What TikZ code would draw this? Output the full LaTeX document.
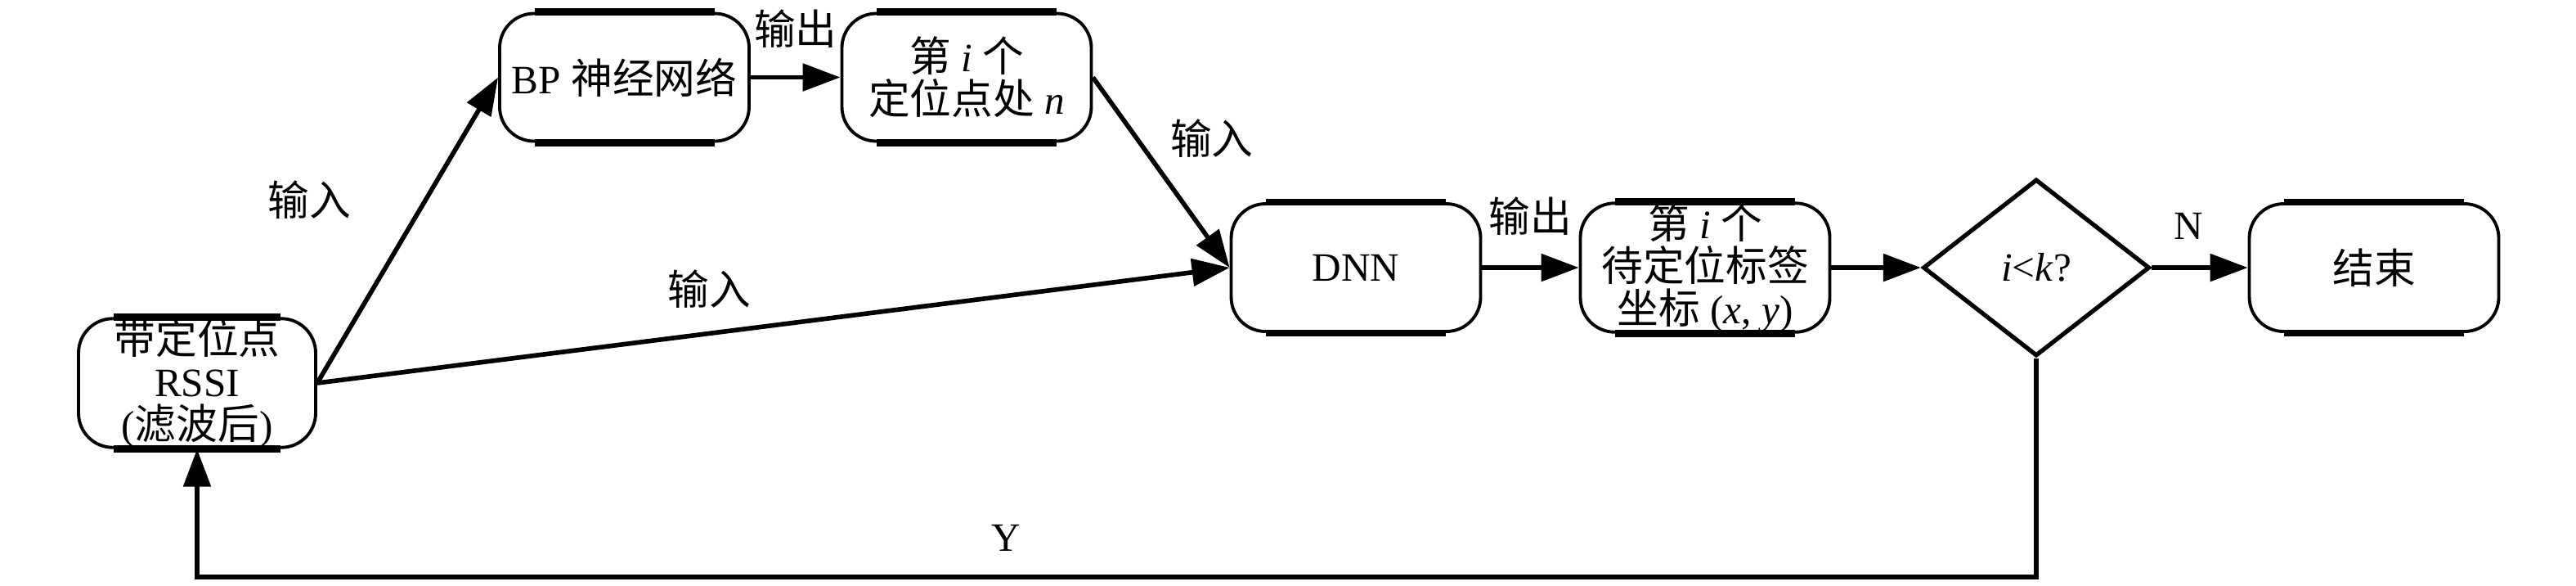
\documentclass[tikz,border=0pt]{standalone}
\usepackage{fontspec}
\setmainfont{Liberation Serif}
\newfontfamily\cjk[Scale=1.03]{Noto Sans CJK SC}
\newcommand{\zh}[1]{{\cjk #1}}
\usetikzlibrary{shapes.geometric,arrows.meta}
\tikzset{
  box/.style={rectangle, rounded corners=0.42cm, draw, line width=1.1pt,
    minimum width=3.05cm, minimum height=1.56cm, inner sep=0pt, align=center,
    append after command={([xshift=-#1]\tikzlastnode.north) edge[line width=2.4pt] ([xshift=#1]\tikzlastnode.north)
      ([xshift=-#1]\tikzlastnode.south) edge[line width=2.4pt] ([xshift=#1]\tikzlastnode.south)}},
  box/.default=1.1cm,
  conn/.style={line width=1.6pt, -{Triangle[length=4.6mm,width=3.3mm]}},
  lbl/.style={inner sep=1pt},
}

\begin{document}
\begin{tikzpicture}[font=\fontsize{14pt}{14.8pt}\selectfont]
    \useasboundingbox (0,0) rectangle (31.5,-7.15);

    \node[box=1.02cm, minimum width=2.9cm, minimum height=1.48cm] (rssi) at (2.41,-4.68) {\zh{带定位点}\\RSSI\\(\zh{滤波后})};
    \node[box] (bp) at (7.635,-0.945) {BP \zh{神经网络}};
    \node[box] (pos) at (11.82,-0.945) {\zh{第} \textit{i} \zh{个}\\\zh{定位点处} \textit{n}};
    \node[box] (dnn) at (16.58,-3.27) {DNN};
    \node[box] (tag) at (20.85,-3.27) {\zh{第} \textit{i} \zh{个}\\\zh{待定位标签}\\\zh{坐标} (\textit{x}, \textit{y})};
    \node[diamond, draw, line width=1.5pt, minimum width=2.77cm, minimum height=2.16cm, inner sep=0pt] (dia) at (24.9,-3.27) {\textit{i}<\textit{k}?};
    \node[box] (stop) at (29.03,-3.27) {\zh{结束}};

    \draw[conn] (rssi.east) -- (bp.west) node[lbl, pos=0.6, left=0.85cm] {\zh{输入}};
    \draw[conn] (rssi.east) -- (dnn.west) node[lbl, pos=0.43, above=0.25cm] {\zh{输入}};
    \draw[conn] (bp) -- (pos) node[lbl, midway, above=0.3cm] {\zh{输出}};
    \draw[conn] (pos.east) -- (dnn.west) node[lbl, pos=0.32, right=0.35cm] {\zh{输入}};
    \draw[conn] (dnn) -- (tag) node[lbl, midway, above=0.33cm] {\zh{输出}};
    \draw[conn] (tag) -- (dia);
    \draw[conn] (dia) -- (stop) node[lbl, pos=0.38, above=0.28cm] {N};

%    loop back to the start
    \coordinate (back) at (2.41,-7.05);
    \draw[conn] (dia.south) |- (back) node[lbl, pos=0.78, above=0.25cm] {Y} -- (rssi.south);

\end{tikzpicture}
\end{document}
